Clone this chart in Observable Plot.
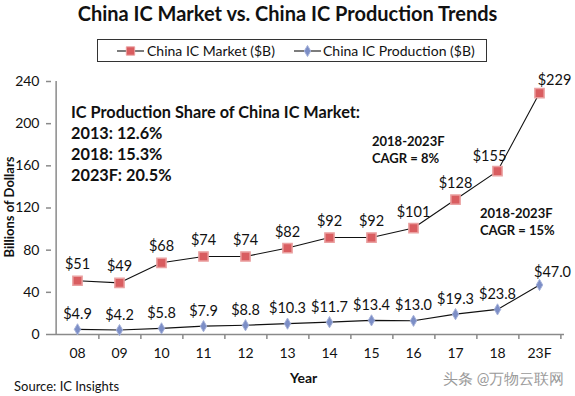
<!DOCTYPE html>
<html>
<head>
<meta charset="utf-8">
<script src="https://cdn.jsdelivr.net/npm/d3@7"></script>
<script src="https://cdn.jsdelivr.net/npm/@observablehq/plot@0.6"></script>
<style>
  html, body { margin: 0; padding: 0; background: #fff; }
  #wrap { position: relative; width: 575px; height: 396px; font-family: Lato, "Open Sans", sans-serif; color: #111; overflow: hidden; }
  .abs { position: absolute; white-space: nowrap; }
  #title { left: 0; width: 575px; top: 1px; text-align: center; font-weight: bold; font-size: 20px; }
  #legend { left: 97px; top: 39px; width: 390px; height: 23px; border: 1px solid #333; box-sizing: border-box; font-size: 14px; }
  .ann { font-weight: bold; }
</style>
</head>
<body>
<div id="wrap">
  <div id="chart" class="abs" style="left:0;top:0"></div>
  <div id="title" class="abs">China IC Market vs. China IC Production Trends</div>
  <div id="legend" class="abs"></div>
  <div class="abs ann" style="left:71px;top:101px;font-size:16.3px;line-height:21px">IC Production Share of China IC Market:<br>2013: 12.6%<br>2018: 15.3%<br>2023F: 20.5%</div>
  <div class="abs ann" style="left:372px;top:133px;font-size:13px;line-height:17px">2018-2023F<br>CAGR = 8%</div>
  <div class="abs ann" style="left:480px;top:205px;font-size:13px;line-height:17px">2018-2023F<br>CAGR = 15%</div>
  <div class="abs" style="left:0;top:207px;width:0;height:0">
    <div style="position:absolute;transform:translate(-50%,-50%) rotate(-90deg);left:9px;top:0;font-weight:bold;font-size:13px;white-space:nowrap">Billions of Dollars</div>
  </div>
  <div class="abs" style="left:290px;top:369px;font-weight:bold;font-size:14px">Year</div>
  <div class="abs" style="left:14px;top:378px;font-size:13px">Source: IC Insights</div>
  <div class="abs" style="left:443px;top:369px;font-size:15px;color:#9a9a9a">头条 @万物云联网</div>
</div>
<script>
const years = ["08","09","10","11","12","13","14","15","16","17","18","23F"];
const marketValues = [51, 49, 68, 74, 74, 82, 92, 92, 101, 128, 155, 229];
const productionValues = [4.9, 4.2, 5.8, 7.9, 8.8, 10.3, 11.7, 13.4, 13.0, 19.3, 23.8, 47.0];
const marketLabels = ["$51","$49","$68","$74","$74","$82","$92","$92","$101","$128","$155","$229"];
const productionLabels = ["$4.9","$4.2","$5.8","$7.9","$8.8","$10.3","$11.7","$13.4","$13.0","$19.3","$23.8","$47.0"];
const yTicks = [0, 40, 80, 120, 160, 200, 240];
const seriesNames = ["China IC Market ($B)", "China IC Production ($B)"];

const market = years.map((y, i) => ({year: y, value: marketValues[i], label: marketLabels[i]}));
const production = years.map((y, i) => ({year: y, value: productionValues[i], label: productionLabels[i]}));

const W = 575, H = 396, mL = 51, mR = 11, mT = 81, mB = 62;
const bw = (W - mL - mR) / years.length;
const axisGrey = "#8a8a8a";
const red = "#d95d60", redEdge = "#eaa0a0";
const blue = "#7c8ec6", blueEdge = "#a6b2da";

const plot = Plot.plot({
  width: W, height: H,
  marginLeft: mL, marginRight: mR, marginTop: mT, marginBottom: mB,
  style: {fontFamily: "Lato, 'Open Sans', sans-serif", fontSize: "14px", color: "#111", background: "transparent", overflow: "visible"},
  x: {type: "band", domain: years, padding: 0, label: null},
  y: {domain: [0, 240], label: null},
  marks: [
    Plot.axisY({ticks: yTicks, tickSize: 5, tickPadding: 7, stroke: axisGrey, strokeWidth: 1.5, fill: "#111", fontSize: 14, label: null}),
    Plot.axisX({tickSize: 0, tickPadding: 14, fill: "#111", fontSize: 14, label: null}),
    Plot.ruleY([0], {stroke: axisGrey, strokeWidth: 1.5}),
    Plot.ruleX([years[0]], {x: d => d, y1: 0, y2: 240, dx: -bw / 2, stroke: axisGrey, strokeWidth: 1.5}),
    Plot.ruleX(years, {x: d => d, y1: 0, y2: 0, insetBottom: -5, dx: bw / 2, stroke: axisGrey, strokeWidth: 1.5}),
    Plot.line(market, {x: "year", y: "value", stroke: "#111", strokeWidth: 1.1}),
    Plot.line(production, {x: "year", y: "value", stroke: "#111", strokeWidth: 1.1}),
    Plot.dot(market, {x: "year", y: "value", symbol: "square", r: 5.2, fill: red, stroke: redEdge, strokeWidth: 1.5}),
    Plot.dot(production, {x: "year", y: "value", symbol: "diamond", r: 3.4, fill: blue, stroke: blueEdge, strokeWidth: 1}),
    Plot.text(market.slice(0, 10), {x: "year", y: "value", text: "label", dy: -16, fill: "#111", fontSize: 14.5}),
    Plot.text(market.slice(10, 11), {x: "year", y: "value", text: "label", dy: -15, dx: -8, fill: "#111", fontSize: 14.5}),
    Plot.text(market.slice(11), {x: "year", y: "value", text: "label", dy: -13, dx: 15, fill: "#111", fontSize: 14.5}),
    Plot.text(production.slice(0, 11), {x: "year", y: "value", text: "label", dy: -15, fill: "#111", fontSize: 14.5}),
    Plot.text(production.slice(11), {x: "year", y: "value", text: "label", dy: -13, dx: 13, fill: "#111", fontSize: 14.5})
  ]
});
document.getElementById("chart").appendChild(plot);

// Legend
const leg = d3.select("#legend");
const items = [
  {name: seriesNames[0], symbol: d3.symbolSquare, size: 70, fill: red, stroke: redEdge, x0: 20, tx: 50},
  {name: seriesNames[1], symbol: d3.symbolDiamond, size: 36, fill: blue, stroke: blueEdge, x0: 197, tx: 226}
];
const svg = leg.append("svg").attr("width", 390).attr("height", 23).style("position", "absolute").style("left", "-1px").style("top", "-1px");
items.forEach(it => {
  svg.append("line").attr("x1", it.x0).attr("x2", it.x0 + 27).attr("y1", 12).attr("y2", 12).attr("stroke", "#111").attr("stroke-width", 1.1);
  svg.append("path").attr("d", d3.symbol(it.symbol, it.size)()).attr("transform", `translate(${it.x0 + 13.5},12)`).attr("fill", it.fill).attr("stroke", it.stroke);
  svg.append("text").attr("x", it.tx).attr("y", 12).attr("dy", "0.35em").attr("font-size", 14).attr("font-family", "Lato, 'Open Sans', sans-serif").attr("fill", "#111").text(it.name);
});
</script>
</body>
</html>
